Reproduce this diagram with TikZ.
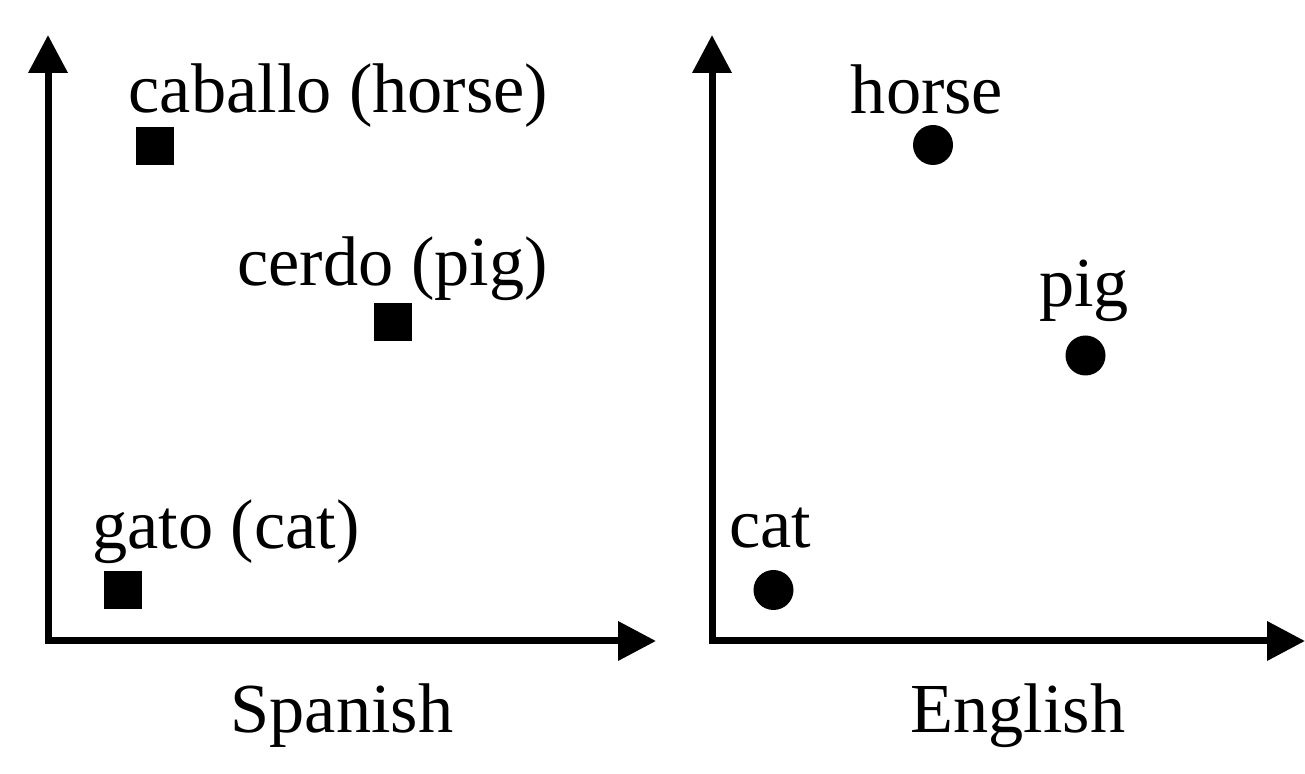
\documentclass[tikz,border=0pt]{standalone}
\usepackage{fontspec}
\setmainfont{Liberation Serif}
\usepackage{tikz}
\usetikzlibrary{arrows.meta}

\begin{document}
\begin{tikzpicture}[>={Triangle[length=0.76cm, width=0.76cm]},
  axis/.style={line width=0.14cm, <->, line join=miter},
  sqmark/.style={fill=black, inner sep=0pt, minimum size=0.76cm},
  dotmark/.style={circle, fill=black, inner sep=0pt, minimum size=0.8cm},
  word/.style={anchor=base, inner sep=0pt, font=\fontsize{40}{48}\selectfont}]
  \useasboundingbox (0,0) rectangle (26.1,15.48);
  % Spanish space
  \coordinate (so) at (0.96,2.66);
  \coordinate (sy) at (0.96,14.78);
  \coordinate (sx) at (13.12,2.66);
  \draw[axis] (sy) -- (so) -- (sx);
  \node[sqmark] (caballo) at (3.1,12.56) {};
  \node[sqmark] (cerdo) at (7.86,9.04) {};
  \node[sqmark] (gato) at (2.45,3.68) {};
  \node[word] (caballoL) at (6.77,13.22) {caballo (horse)};
  \node[word] (cerdoL) at (7.85,9.76) {cerdo (pig)};
  \node[word] (gatoL) at (4.52,4.5) {gato (cat)};
  \node[word] (spanish) at (6.84,0.82) {Spanish};
  % English space
  \coordinate (eo) at (14.24,2.66);
  \coordinate (ey) at (14.24,14.78);
  \coordinate (ex) at (26.1,2.66);
  \draw[axis] (ey) -- (eo) -- (ex);
  \node[dotmark] (horse) at (18.66,12.58) {};
  \node[dotmark] (pig) at (21.71,8.37) {};
  \node[dotmark] (cat) at (15.47,3.68) {};
  \node[word] (horseL) at (18.54,13.2) {horse};
  \node[word] (pigL) at (21.68,9.34) {pig};
  \node[word] (catL) at (15.4,4.52) {cat};
  \node[word] (english) at (20.36,0.82) {English};
\end{tikzpicture}
\end{document}
